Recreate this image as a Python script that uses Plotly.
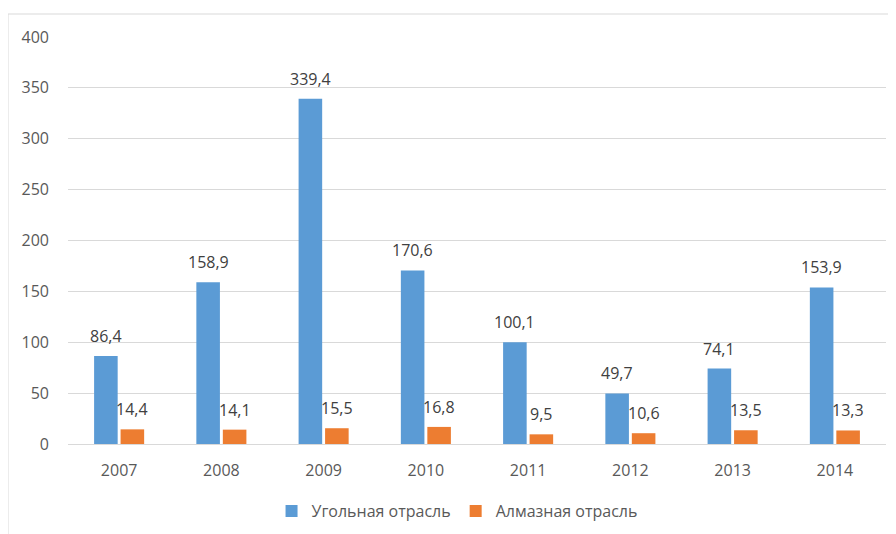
import plotly.graph_objects as go

years = ["2007", "2008", "2009", "2010", "2011", "2012", "2013", "2014"]
coal = [86.4, 158.9, 339.4, 170.6, 100.1, 49.7, 74.1, 153.9]
diamond = [14.4, 14.1, 15.5, 16.8, 9.5, 10.6, 13.5, 13.3]
series_names = ["Угольная отрасль", "Алмазная отрасль"]
colors = ["#5B9BD5", "#ED7D31"]

FONT = "Open Sans"
FS = 16
# page body has an 8px margin, so the figure is drawn 8px smaller
W, H = 888, 526
ml, mr, mt, mb = 60, 10, 29, 90
bargap, bargroupgap = 0.482, 0.11

fig = go.Figure()
for name, vals, col in zip(series_names, [coal, diamond], colors):
    fig.add_trace(go.Bar(x=years, y=vals, name=name, marker_color=col,
                         marker_line_width=0))

# data labels (x given as category index so numeric-looking names aren't misread)
plot_w = W - ml - mr
cat_w = plot_w / len(years)
slot = cat_w * (1 - bargap) / 2
offsets = [-slot / 2, slot / 2]
for vals, off in zip([coal, diamond], offsets):
    for i, v in enumerate(vals):
        fig.add_annotation(x=i, y=v, xref="x", yref="y",
                           text=f"{v:.1f}".replace(".", ","),
                           showarrow=False, xshift=off, yshift=20,
                           yanchor="middle",
                           font=dict(family=FONT, size=FS, color="#404040"))

# outer frame (chart area border)
fx0 = (0 - ml) / plot_w
fy1 = 1 + (mt - 6) / (H - mt - mb)
fig.add_shape(type="rect", xref="paper", yref="paper", x0=fx0, x1=1.5,
              y0=-1, y1=fy1, line=dict(color="#D9D9D9", width=1),
              fillcolor="rgba(0,0,0,0)", layer="below")

fig.update_layout(
    width=W, height=H,
    margin=dict(l=ml, r=mr, t=mt, b=mb, autoexpand=False),
    paper_bgcolor="white", plot_bgcolor="white",
    barmode="group", bargap=bargap, bargroupgap=bargroupgap,
    font=dict(family=FONT, size=FS, color="#595959"),
    showlegend=True,
    legend=dict(orientation="h", x=0.4756, xanchor="center", y=-0.165,
                yanchor="middle", font=dict(family=FONT, size=FS, color="#595959"),
                itemwidth=30),
)
fig.update_yaxes(range=[0, 400], autorange=False, dtick=50, showgrid=True,
                 gridcolor="#D9D9D9", gridwidth=1, zeroline=False, showline=False,
                 ticklabelstandoff=18, tickfont=dict(size=FS, color="#595959"))
fig.update_xaxes(type="category", range=[-0.5, len(years) - 0.5], autorange=False,
                 showgrid=False, showline=True, linecolor="#D9D9D9",
                 ticks="", ticklabelstandoff=12,
                 tickfont=dict(size=FS, color="#595959"))

fig.write_html("out.html")
